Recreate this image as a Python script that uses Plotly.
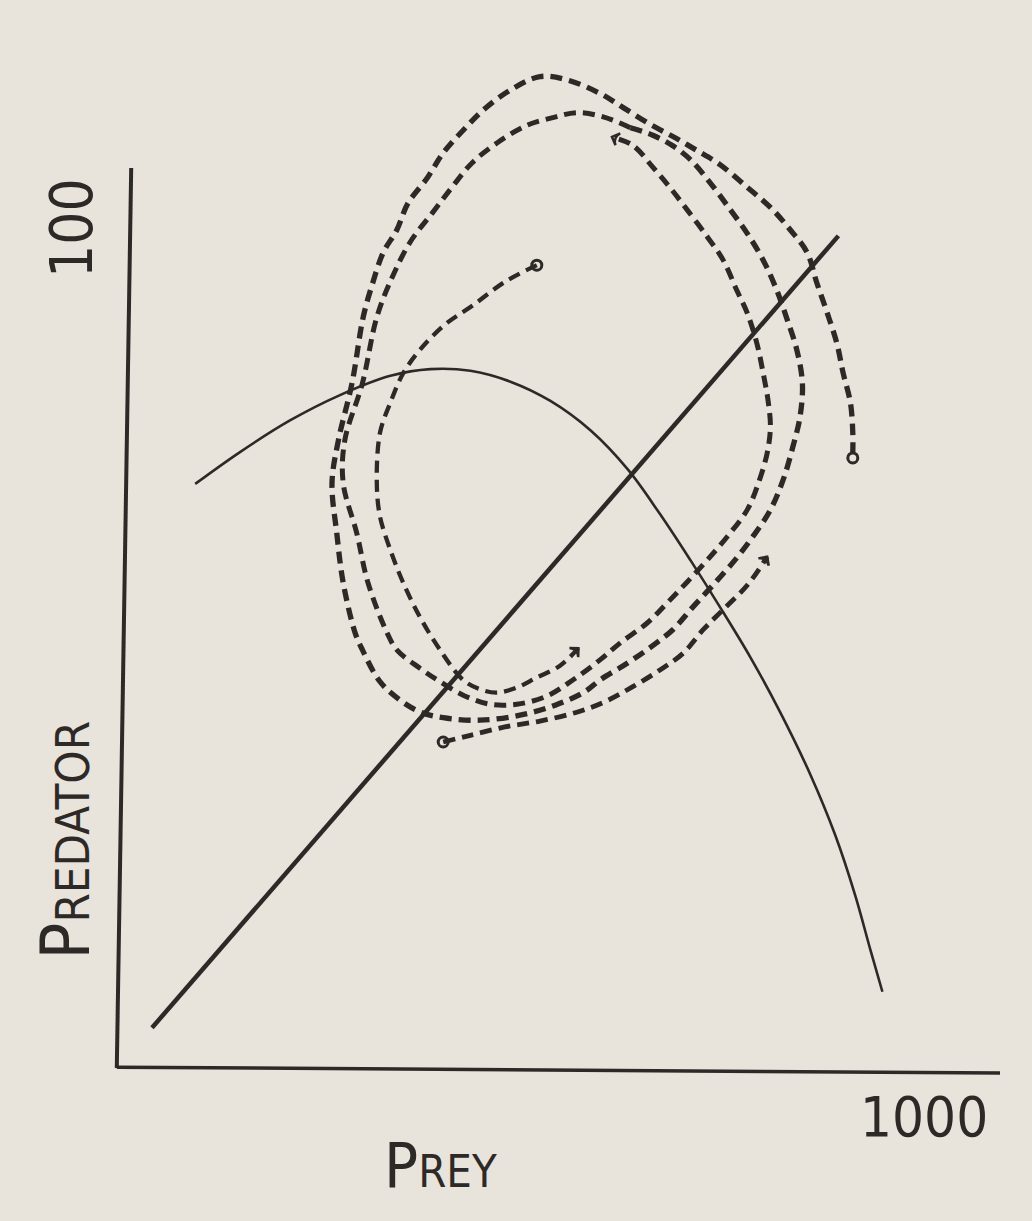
import plotly.graph_objects as go

INK = "#2d2927"
PAPER = "#e8e3db"
FONT = "Liberation Sans Narrow, DejaVu Sans Condensed, Liberation Sans, sans-serif"

# ---- tick labels ----
x_tick_vals = [1000]
x_tick_text = ["1000"]
y_tick_vals = [100]
y_tick_text = ["100"]

# ---- axes (hand-drawn, slightly tilted) ----
yaxis_prey = [14, -4]
yaxis_pred = [107.4, 0.0]
xaxis_prey = [-4, 1100]
xaxis_pred = [0.1, -0.6]

# ---- prey isocline (solid straight line) ----
line_prey = [40, 898]
line_pred = [4.8, 99.3]

# ---- predator isocline (humped curve) ----
hump_prey = [94, 150, 213, 275, 338, 388, 438, 488, 538, 588, 635, 675, 713, 750, 788,
             825, 863, 894, 919, 938, 953]
hump_pred = [69.7, 73.5, 77.3, 80.3, 82.6, 83.4, 83.2, 81.9, 79.6, 76.1, 71.4, 66.1, 60.6,
             55.0, 49.0, 42.5, 35.0, 27.8, 20.6, 14.1, 9.1]

# ---- trajectory A: from inner start point to first arrow ----
trajA_prey = [521, 481, 441, 406, 375, 354, 338, 325, 321, 325, 338, 354, 375, 400, 429,
              450, 471, 496, 521, 550, 573]
trajA_pred = [95.8, 93.8, 91.0, 88.7, 85.7, 82.9, 79.4, 75.8, 69.8, 65.8, 61.8, 57.9, 53.8,
              49.9, 46.3, 45.2, 44.8, 45.4, 46.6, 48.0, 50.1]

# ---- inner loop ----
inner_prey = [638, 604, 571, 541, 509, 473, 440, 415, 391, 363, 340, 321, 303, 281, 279,
              296, 310, 334, 346, 375, 400, 431, 463, 496, 534, 566, 600, 625, 659, 684,
              709, 734, 759, 784, 798, 809, 813, 810, 804, 796, 784, 771, 754, 734, 709,
              688, 666, 641, 615]
inner_pred = [112.2, 113.5, 114.0, 113.4, 112.5, 110.5, 108.0, 105.1, 102.1, 98.6, 94.3,
              89.6, 81.7, 74.9, 69.8, 63.8, 57.9, 51.9, 49.9, 47.7, 46.1, 44.4, 43.4, 43.4,
              44.4, 46.3, 48.7, 50.7, 53.1, 55.5, 58.0, 60.6, 63.4, 66.6, 69.8, 73.4, 76.5,
              79.7, 82.9, 86.5, 90.1, 92.8, 96.4, 99.2, 102.4, 105.0, 107.5, 110.1, 111.1]

# ---- outer loop, ending at the final point ----
outer_prey = [638, 666, 690, 713, 738, 763, 784, 804, 821, 834, 846, 853, 850, 841, 829,
              813, 791, 766, 741, 716, 691, 663, 634, 600, 581, 544, 500, 450, 404, 375,
              350, 325, 303, 294, 279, 271, 265, 273, 290, 304, 315, 329, 346, 360, 384,
              404, 429, 454, 488, 525, 559, 600, 629, 663, 694, 721, 750, 784, 813, 838,
              859, 871, 884, 896, 904, 913, 916, 916]
outer_pred = [112.2, 111.3, 110.1, 108.4, 105.6, 102.4, 99.6, 96.4, 92.8, 89.3, 85.7, 81.7,
              77.7, 74.1, 70.2, 66.6, 63.4, 60.3, 57.6, 55.0, 52.3, 50.2, 48.3, 46.3, 44.9,
              43.3, 42.1, 41.5, 41.8, 42.5, 43.9, 46.1, 49.9, 51.9, 57.9, 63.8, 69.8, 74.9,
              81.7, 89.6, 93.4, 97.3, 100.0, 103.2, 106.2, 109.2, 111.9, 114.3, 116.7,
              118.3, 117.9, 116.3, 114.6, 112.6, 111.0, 109.5, 107.8, 105.1, 102.7, 100.0,
              97.3, 93.7, 90.1, 86.5, 82.9, 79.4, 75.8, 73.5]

# ---- trajectory B: from lower start point to second arrow ----
trajB_prey = [404, 438, 481, 525, 569, 606, 641, 675, 704, 729, 754, 784, 809]
trajB_pred = [38.9, 39.7, 40.7, 41.4, 42.4, 43.7, 45.5, 47.5, 49.5, 52.3, 54.7, 57.6, 61.0]

# ---- open circles (start / end points) ----
pts_prey = [521, 916, 404]
pts_pred = [95.8, 72.8, 38.9]

fig = go.Figure()

# axes
fig.add_trace(go.Scatter(x=yaxis_prey, y=yaxis_pred, mode="lines",
                         line=dict(color=INK, width=4), hoverinfo="skip"))
fig.add_trace(go.Scatter(x=xaxis_prey, y=xaxis_pred, mode="lines",
                         line=dict(color=INK, width=3.5), hoverinfo="skip"))

fig.add_trace(go.Scatter(x=line_prey, y=line_pred, mode="lines",
                         line=dict(color=INK, width=4.5)))
fig.add_trace(go.Scatter(x=hump_prey, y=hump_pred, mode="lines",
                         line=dict(color=INK, width=2.6, shape="spline", smoothing=1.0)))

dash = "12px,7px"
for xs, ys, w in [(inner_prey, inner_pred, 5), (outer_prey, outer_pred, 5.3),
                  (trajA_prey, trajA_pred, 4.3), (trajB_prey, trajB_pred, 4.8)]:
    fig.add_trace(go.Scatter(x=xs, y=ys, mode="lines",
                             line=dict(color=INK, width=w, dash=dash, shape="spline")))

# arrowheads at the ends of the arrowed trajectories
for xs, ys in [(trajA_prey, trajA_pred), (trajB_prey, trajB_pred), (inner_prey, inner_pred)]:
    fig.add_trace(go.Scatter(x=xs[-2:], y=ys[-2:], mode="markers",
                             marker=dict(symbol="arrow-wide-open", size=9, angleref="previous",
                                         opacity=[0, 1], color=INK,
                                         line=dict(color=INK, width=2.5))))

fig.add_trace(go.Scatter(x=pts_prey, y=pts_pred, mode="markers",
                         marker=dict(symbol="circle-open", size=10, color=INK,
                                     line=dict(color=INK, width=3))))

# tick labels and axis titles
fig.add_annotation(x=x_tick_vals[0], y=0, xref="x", yref="y", text=x_tick_text[0],
                   showarrow=False, xshift=4, yshift=-48,
                   font=dict(family=FONT, size=56, color=INK))
fig.add_annotation(x=0, y=y_tick_vals[0], xref="x", yref="y", text=y_tick_text[0],
                   showarrow=False, textangle=-90, xshift=-48, yshift=2,
                   font=dict(family=FONT, size=58, color=INK))
fig.add_annotation(x=0.3747, y=-0.1192, xref="paper", yref="paper",
                   text="P<span style='font-size:45px'>REY</span>",
                   showarrow=False, font=dict(family=FONT, size=63, color=INK))
fig.add_annotation(x=-0.0836, y=0.1144, xref="paper", yref="paper",
                   text="P<span style='font-size:47px'>REDATOR</span>",
                   showarrow=False, textangle=-90,
                   font=dict(family=FONT, size=68, color=INK))

fig.update_layout(
    width=1032, height=1221,
    margin=dict(l=100, r=22, t=40, b=141),
    paper_bgcolor=PAPER, plot_bgcolor=PAPER,
    showlegend=False,
    xaxis=dict(range=[-25, 1112.5], visible=False),
    yaxis=dict(range=[-1.432, 122.67], visible=False),
)

fig.write_html("out.html", config={"displayModeBar": False},
               post_script="document.body.style.margin='0px';"
                           "document.body.style.background='" + PAPER + "';")
